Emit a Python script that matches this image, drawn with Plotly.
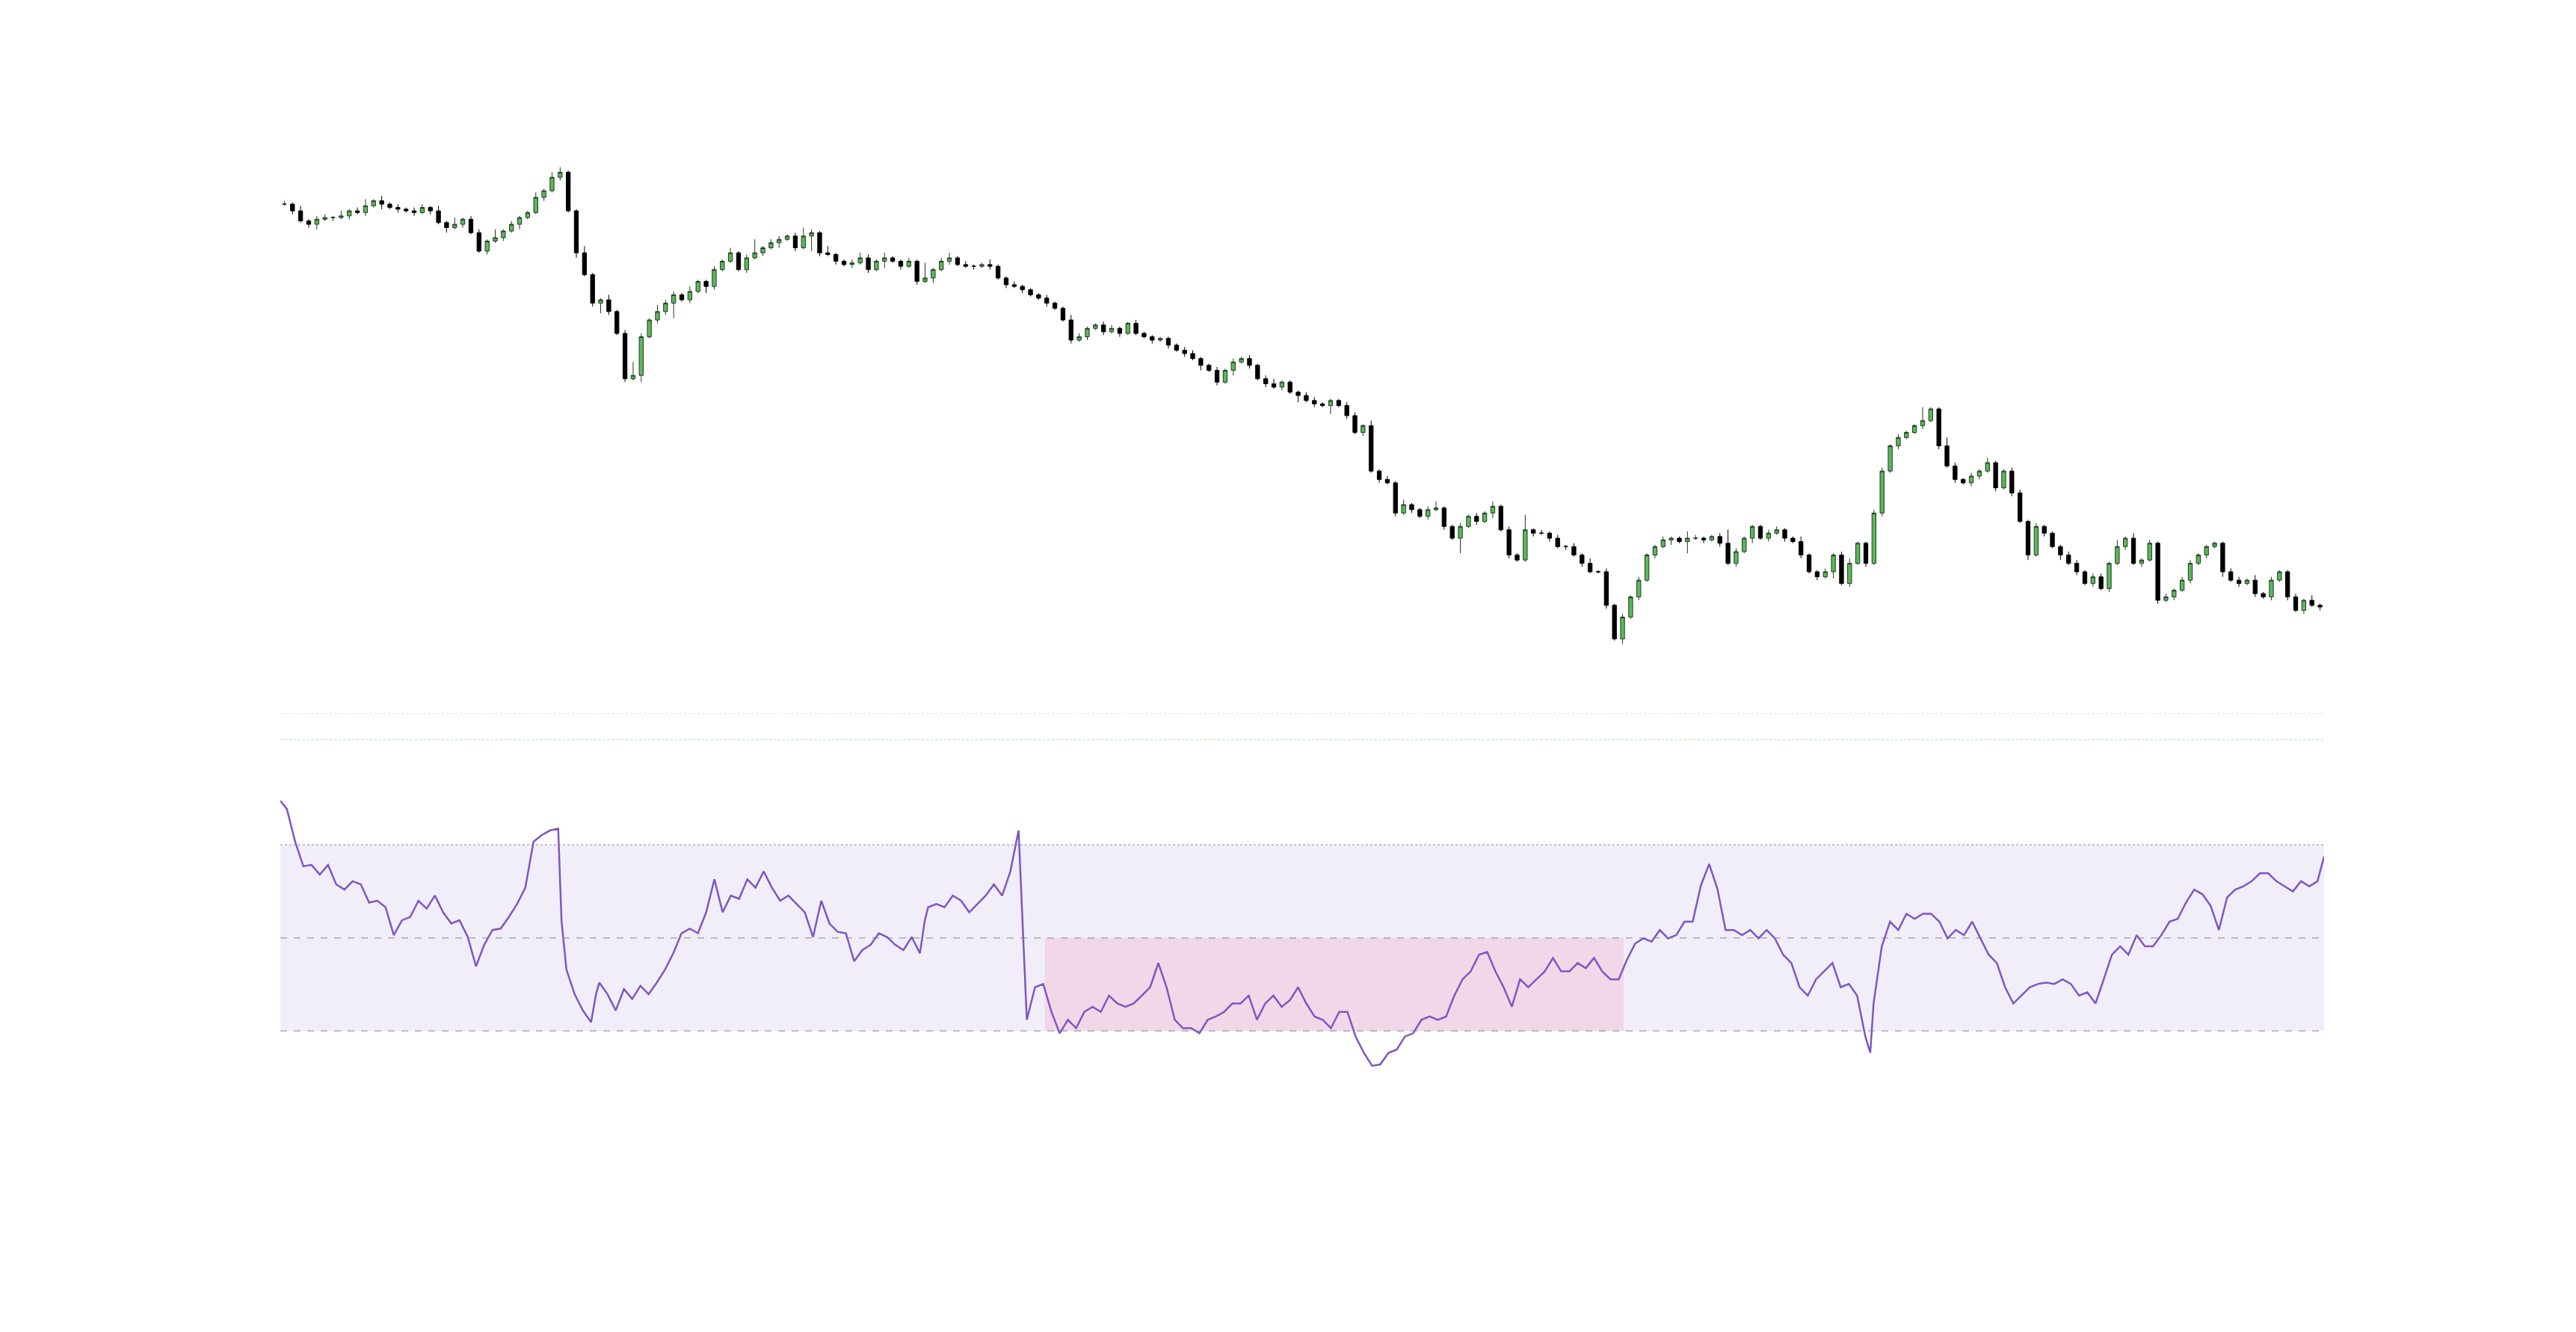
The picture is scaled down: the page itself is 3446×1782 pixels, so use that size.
import plotly.graph_objects as go

# price chart: closing level per session (uniformly spaced sessions)
price_close = [274,270,264,262,265,266,266,267,270,269,273,276,274,272,271,270,269,272,270,263,260,262,265,257,246,252,254,258,262,266,269,278,282,290,293,270,245,232,215,217,210,197,170,172,195,205,210,215,220,217,222,228,225,235,240,245,235,242,245,248,251,253,255,248,255,257,245,244,240,238,239,242,235,240,242,240,237,240,228,230,235,240,242,238,237,237,238,237,230,226,225,223,220,218,215,212,205,193,195,200,202,198,200,197,203,197,195,193,194,190,187,185,182,178,175,168,175,180,182,178,170,167,165,168,162,160,157,155,154,157,154,148,138,142,115,110,108,90,95,92,88,92,93,82,75,82,88,85,90,94,80,65,62,80,78,78,75,70,70,65,60,55,55,35,15,28,40,50,65,70,74,75,73,75,75,74,76,72,60,67,75,82,75,78,80,75,73,65,55,52,55,65,48,60,72,60,90,115,130,135,138,142,145,152,130,118,110,108,112,115,120,105,115,102,85,65,82,78,70,65,60,55,48,52,45,60,70,75,60,62,72,38,40,44,50,60,65,70,72,55,50,48,50,42,40,50,55,40,32,38,35,34]
wick_up = [int(c) for c in "213122131241312122131412215121131331141131282142213112131281221252141123213112191231211311211121132112211211111221121212123111221112213121311241121213121912121213121212112114211282111221131121231122121181152121311221211122122141312121221111221312112131"]
wick_dn = [int(c) for c in "121231212121312121213121121213112121312621214122912142111212131219212121214121213121121212121121121212121112121213121312121214121512121212121212191213121121212121121312121317121212131212121214121212121121212122121213121312121212121212121213121212121212"]

# RSI line
rsi_day = [171,175,180,185,190,195,200,205,210,215,220,225,230,235,240,245,250,255,260,265,270,275,280,285,290,295,300,305,310,315,320,325,330,335,340,342,345,350,355,360,363,365,370,375,380,385,390,395,400,405,410,415,420,425,430,435,440,445,450,455,460,465,470,475,480,485,490,495,500,505,510,515,520,525,530,535,540,545,550,555,560,563,565,570,575,580,585,590,595,600,605,610,615,620,625,630,635,640,645,650,655,660,665,670,675,680,685,690,695,700,705,710,715,720,725,730,735,740,745,750,755,760,765,770,775,780,785,790,795,800,805,810,815,820,825,830,835,840,845,850,855,860,865,870,875,880,885,890,895,900,905,910,915,920,925,930,935,940,945,950,955,960,965,970,975,980,985,990,995,1000,1005,1010,1015,1020,1025,1030,1035,1040,1045,1050,1055,1060,1065,1070,1075,1080,1085,1090,1095,1100,1105,1110,1115,1120,1125,1130,1135,1138,1140,1145,1150,1155,1160,1165,1170,1175,1180,1185,1190,1195,1200,1205,1210,1215,1220,1225,1230,1235,1240,1245,1250,1255,1260,1265,1270,1275,1280,1285,1290,1295,1300,1305,1310,1315,1320,1325,1330,1335,1340,1345,1350,1355,1360,1365,1370,1375,1380,1385,1390,1395,1400,1405,1410,1414]
rsi_value = [79.5,77.7,70.7,65.4,65.7,63.6,65.7,61.5,60.4,62.2,61.5,57.6,58.0,56.6,50.6,53.8,54.5,58.0,56.3,59.1,55.5,53.1,53.8,50.2,43.9,48.5,51.7,52.0,54.5,57.3,60.8,70.7,72.1,73.1,73.5,53.8,43.2,37.9,34.4,31.9,37.9,40.4,37.9,34.4,39.0,36.9,39.7,37.9,40.4,43.2,46.7,51.0,52.0,51.0,55.5,62.6,55.5,59.1,58.4,62.6,60.8,64.3,60.8,58.0,59.1,57.3,55.5,50.2,58.0,53.1,51.3,51.0,45.0,47.4,48.5,51.0,50.2,48.5,47.4,50.2,46.7,53.8,56.6,57.3,56.6,59.1,58.0,55.5,57.3,59.1,61.5,59.1,64.3,73.1,32.4,39.4,40.1,34.1,29.5,32.4,30.6,34.1,35.2,34.1,37.6,35.9,35.2,35.9,37.6,39.4,44.6,39.4,32.4,30.6,30.6,29.5,32.4,33.1,34.1,35.9,35.9,37.6,32.4,35.9,37.6,35.2,36.6,39.4,35.9,33.1,32.4,30.6,34.1,34.1,28.8,25.3,22.5,22.8,25.3,26.0,28.8,29.5,32.4,33.1,32.4,33.1,37.6,41.1,42.8,46.4,47.0,42.8,39.4,35.2,41.1,39.4,41.1,42.8,45.7,42.8,42.8,44.6,43.5,45.7,42.8,41.1,41.1,45.3,48.8,49.9,49.2,51.7,49.9,50.6,53.5,53.5,61.3,65.9,60.6,51.7,51.7,50.6,51.7,49.9,51.7,49.9,46.4,44.6,39.4,37.6,41.1,42.8,44.6,39.4,40.1,37.6,28.8,25.3,35.9,48.2,53.5,51.7,55.2,54.1,55.2,55.2,53.5,49.9,51.7,50.6,53.5,49.9,46.4,44.6,39.4,35.9,37.6,39.4,40.1,40.4,40.1,41.1,40.1,37.6,38.3,35.9,41.1,46.4,48.2,46.4,50.6,48.2,48.2,50.6,53.5,54.1,57.6,60.4,59.4,56.9,51.7,58.7,60.4,61.1,62.2,63.9,63.9,62.2,61.1,60.0,62.2,61.1,62.2,67.5]

overbought = 70
midline = 50
oversold = 30
cold_start, cold_end = 636, 988

n = len(price_close)
session = list(range(n))
price_open = [price_close[0]] + price_close[:-1]
price_high = [max(o, c) + w for o, c, w in zip(price_open, price_close, wick_up)]
price_low = [min(o, c) - w for o, c, w in zip(price_open, price_close, wick_dn)]

fig = go.Figure()

fig.add_trace(go.Candlestick(
    x=session, open=price_open, high=price_high, low=price_low, close=price_close,
    increasing=dict(line=dict(color="#1e3a1e", width=1), fillcolor="#5cb85c"),
    decreasing=dict(line=dict(color="#000000", width=1), fillcolor="#000000"),
    whiskerwidth=0, showlegend=False, xaxis="x", yaxis="y",
))

fig.add_trace(go.Scatter(
    x=rsi_day, y=rsi_value, mode="lines",
    line=dict(color="#7e57c2", width=2.5),
    showlegend=False, xaxis="x2", yaxis="y2",
))

# RSI bands
fig.add_shape(type="rect", xref="x2", yref="y2", x0=171, x1=1414, y0=oversold, y1=overbought,
              fillcolor="rgba(126,87,194,0.1)", line_width=0, layer="below")
fig.add_shape(type="rect", xref="x2", yref="y2", x0=cold_start, x1=cold_end, y0=oversold, y1=midline,
              fillcolor="rgba(233,30,99,0.1)", line_width=0, layer="below")
for lvl, dash in [(overbought, "dot"), (midline, "dash"), (oversold, "dash")]:
    fig.add_shape(type="line", xref="x2", yref="y2", x0=171, x1=1414, y0=lvl, y1=lvl,
                  line=dict(color="rgba(120,123,134,0.6)", width=1.5, dash=dash))
fig.add_shape(type="line", xref="x2", yref="y2", x0=171, x1=1414, y0=98.3, y1=98.3,
              line=dict(color="rgba(120,123,134,0.4)", width=1, dash="dot"))
fig.add_shape(type="line", xref="x2", yref="y2", x0=171, x1=1414, y0=92.6, y1=92.6,
              line=dict(color="rgba(76,175,80,0.4)", width=1, dash="dot"))

axis_off = dict(visible=False, showgrid=False, zeroline=False)
fig.update_layout(
    width=3446, height=1782,
    paper_bgcolor="white", plot_bgcolor="white",
    margin=dict(l=367, r=345, t=0, b=0),
    xaxis=dict(axis_off, range=[-0.5, n - 0.5], rangeslider=dict(visible=False), domain=[0, 1]),
    yaxis=dict(axis_off, range=[8, 300], domain=[0.516, 0.884]),
    xaxis2=dict(axis_off, range=[171, 1414], anchor="y2", domain=[0, 1]),
    yaxis2=dict(axis_off, range=[18.4, 98.3], anchor="x2", domain=[0.19, 0.469]),
)

fig.write_html("out.html")
